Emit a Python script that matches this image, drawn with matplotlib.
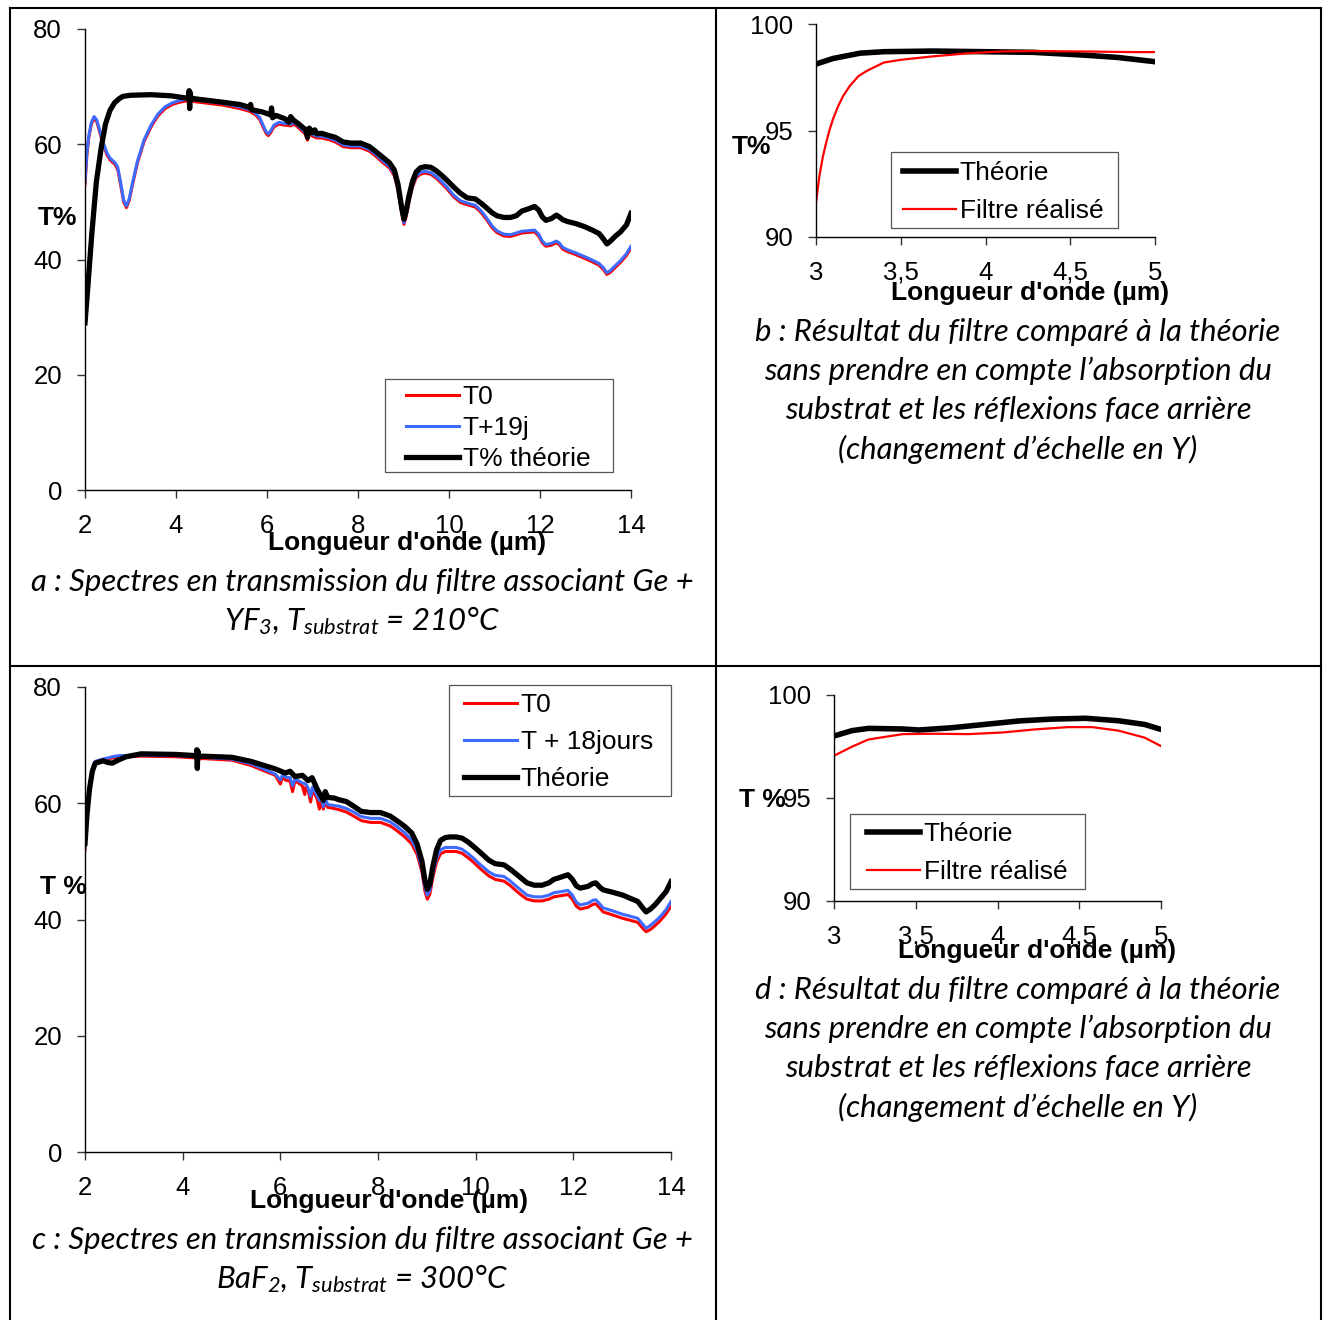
import matplotlib
matplotlib.use('Agg')
import matplotlib.pyplot as plt
from matplotlib.lines import Line2D
from matplotlib.patches import Rectangle

# ---- data: panel a (Ge + YF3, 210°C) ----
wl_a_th = [2.00, 2.05, 2.15, 2.25, 2.36, 2.45, 2.55, 2.65, 2.75, 2.83,
           3.00, 3.45, 3.90, 4.23, 4.28, 4.29, 4.30, 4.31, 4.33, 4.40,
           5.02, 5.40, 5.62, 5.64, 5.66, 5.90, 6.08, 6.10, 6.12, 6.20,
           6.40, 6.48, 6.52, 6.58, 6.70, 6.85, 6.89, 6.93, 7.00, 7.05,
           7.10, 7.20, 7.36, 7.50, 7.67, 7.85, 8.06, 8.25, 8.38, 8.55,
           8.69, 8.80, 8.88, 8.96, 9.01, 9.06, 9.12, 9.20, 9.28, 9.37,
           9.47, 9.60, 9.72, 9.84, 9.95, 10.10, 10.25, 10.40, 10.58, 10.70,
           10.82, 10.95, 11.05, 11.20, 11.35, 11.48, 11.60, 11.75, 11.88, 11.97,
           12.05, 12.13, 12.25, 12.36, 12.42, 12.50, 12.60, 12.80, 12.98, 13.15,
           13.30, 13.40, 13.47, 13.55, 13.65, 13.77, 13.90, 14.00]
T_a_th = [29.0, 34.0, 44.5, 53.5, 59.6, 63.5, 65.9, 67.2, 67.9, 68.3,
          68.5, 68.6, 68.4, 68.0, 68.2, 69.3, 66.2, 69.0, 67.9, 67.9,
          67.3, 66.9, 66.4, 66.9, 66.0, 65.6, 65.1, 66.3, 64.6, 65.0,
          64.4, 63.8, 64.8, 64.2, 63.5, 62.5, 61.2, 62.8, 62.0, 62.5,
          61.8, 61.9, 61.5, 61.2, 60.4, 60.2, 60.2, 59.6, 58.8, 57.7,
          56.8, 55.5, 53.0, 49.0, 47.0, 48.5, 51.0, 53.6, 55.2, 55.9,
          56.1, 56.0, 55.4, 54.6, 53.8, 52.6, 51.5, 50.7, 50.5, 49.8,
          49.0, 48.1, 47.6, 47.3, 47.3, 47.6, 48.4, 48.8, 49.2, 48.6,
          47.4, 46.8, 47.1, 47.7, 47.4, 46.9, 46.6, 46.2, 45.7, 45.1,
          44.5, 43.5, 42.7, 43.2, 44.0, 44.8, 46.0, 48.0]
wl_a_mes = [2.00, 2.04, 2.08, 2.14, 2.20, 2.26, 2.32, 2.40, 2.48, 2.56,
            2.66, 2.72, 2.78, 2.85, 2.91, 2.97, 3.05, 3.15, 3.30, 3.45,
            3.60, 3.76, 3.92, 4.08, 4.23, 4.28, 4.29, 4.30, 4.31, 4.33,
            4.40, 5.02, 5.40, 5.62, 5.75, 5.84, 5.92, 5.98, 6.03, 6.08,
            6.15, 6.26, 6.40, 6.52, 6.60, 6.70, 6.85, 6.89, 6.93, 7.00,
            7.10, 7.20, 7.36, 7.50, 7.67, 7.85, 8.06, 8.25, 8.38, 8.55,
            8.69, 8.80, 8.88, 8.96, 9.01, 9.06, 9.12, 9.20, 9.28, 9.37,
            9.47, 9.60, 9.72, 9.84, 9.95, 10.10, 10.25, 10.40, 10.58, 10.70,
            10.82, 10.95, 11.05, 11.20, 11.35, 11.48, 11.60, 11.75, 11.88, 11.97,
            12.05, 12.13, 12.25, 12.36, 12.42, 12.50, 12.60, 12.80, 12.98, 13.15,
            13.30, 13.40, 13.47, 13.55, 13.65, 13.77, 13.90, 14.00]
T_a_19j = [53.5, 58.5, 61.3, 63.8, 64.8, 64.2, 62.5, 60.3, 58.5, 57.5,
           56.8, 56.0, 53.5, 50.3, 49.3, 50.5, 53.5, 57.0, 60.8, 63.3,
           65.2, 66.5, 67.2, 67.6, 67.8, 67.9, 69.1, 66.3, 68.8, 67.8,
           67.7, 67.1, 66.5, 66.0, 65.4, 64.6, 63.2, 62.2, 61.8, 62.3,
           63.3, 63.8, 63.6, 63.5, 63.8, 63.1, 62.0, 61.0, 62.3, 61.7,
           61.4, 61.4, 61.1, 60.7, 59.9, 59.7, 59.7, 59.1, 58.3, 57.1,
           56.2, 54.8, 52.2, 48.3, 46.4, 47.8, 50.3, 52.9, 54.5, 55.1,
           55.3, 55.1, 54.4, 53.5, 52.6, 51.2, 50.2, 49.8, 49.4, 48.5,
           47.3, 45.8, 45.0, 44.4, 44.3, 44.6, 44.9, 45.0, 45.1, 44.4,
           43.2, 42.6, 42.8, 43.2, 42.9, 42.1, 41.7, 41.1, 40.5, 39.9,
           39.3, 38.5, 37.7, 38.1, 38.9, 39.8, 41.0, 42.3]
T_a_T0 = [53.0, 58.0, 61.0, 63.5, 64.5, 63.9, 62.2, 60.0, 58.2, 57.2,
          56.5, 55.6, 53.1, 50.0, 49.0, 50.2, 53.2, 56.7, 60.5, 63.0,
          64.9, 66.2, 66.9, 67.3, 67.5, 67.6, 68.8, 66.0, 68.5, 67.5,
          67.4, 66.8, 66.2, 65.7, 65.1, 64.3, 62.9, 61.9, 61.5, 62.0,
          63.0, 63.5, 63.3, 63.2, 63.5, 62.8, 61.7, 60.7, 62.0, 61.4,
          61.1, 61.1, 60.8, 60.4, 59.6, 59.4, 59.4, 58.8, 58.0, 56.8,
          55.9, 54.5, 51.9, 48.0, 46.1, 47.5, 50.0, 52.6, 54.2, 54.8,
          55.0, 54.8, 54.1, 53.2, 52.3, 50.9, 49.9, 49.5, 49.1, 48.2,
          47.0, 45.5, 44.7, 44.1, 44.0, 44.3, 44.6, 44.7, 44.8, 44.1,
          42.9, 42.3, 42.5, 42.9, 42.6, 41.8, 41.4, 40.8, 40.2, 39.6,
          39.0, 38.2, 37.4, 37.8, 38.6, 39.5, 40.7, 42.0]

# ---- data: panel b (zoom 3-5 µm, YF3) ----
wl_b_th = [3.00, 3.10, 3.26, 3.40, 3.69, 3.99, 4.28, 4.58, 4.78, 5.00]
T_b_th = [98.12, 98.38, 98.63, 98.70, 98.73, 98.70, 98.67, 98.54, 98.43, 98.23]
wl_b_mes = [3.00, 3.02, 3.04, 3.06, 3.08, 3.10, 3.13, 3.16, 3.20, 3.25,
            3.30, 3.40, 3.50, 3.69, 3.89, 4.09, 4.28, 4.58, 4.88, 5.00]
T_b_mes = [91.60, 92.86, 93.75, 94.43, 95.03, 95.53, 96.13, 96.62, 97.10, 97.55,
           97.80, 98.19, 98.32, 98.48, 98.62, 98.71, 98.73, 98.71, 98.68, 98.68]

# ---- data: panel c (Ge + BaF2, 300°C) ----
wl_c_th = [2.00, 2.04, 2.09, 2.15, 2.21, 2.37, 2.47, 2.56, 2.70, 2.84,
           3.15, 3.85, 4.25, 4.28, 4.29, 4.30, 4.31, 4.33, 4.40, 5.01,
           5.40, 5.63, 5.90, 6.10, 6.20, 6.30, 6.45, 6.57, 6.65, 6.75,
           6.88, 6.92, 6.97, 7.10, 7.20, 7.35, 7.50, 7.66, 7.85, 8.05,
           8.25, 8.37, 8.55, 8.69, 8.80, 8.90, 8.96, 9.01, 9.06, 9.12,
           9.20, 9.28, 9.38, 9.47, 9.60, 9.72, 9.85, 9.95, 10.10, 10.27,
           10.40, 10.58, 10.70, 10.82, 10.95, 11.05, 11.20, 11.36, 11.50, 11.60,
           11.75, 11.89, 11.98, 12.06, 12.14, 12.30, 12.40, 12.46, 12.55, 12.61,
           12.80, 13.01, 13.15, 13.32, 13.42, 13.49, 13.58, 13.68, 13.78, 13.90,
           14.00]
T_c_th = [53.1, 58.0, 62.3, 65.5, 66.9, 67.3, 67.0, 66.9, 67.5, 68.0,
          68.5, 68.4, 68.2, 68.0, 69.2, 66.0, 69.0, 68.0, 68.1, 67.9,
          67.2, 66.6, 65.9, 65.2, 65.5, 64.6, 64.8, 63.9, 64.4, 62.5,
          60.5, 62.0, 61.0, 60.9, 60.6, 60.3, 59.5, 58.6, 58.4, 58.4,
          57.8, 57.1, 56.0, 54.9, 53.0, 50.0, 46.8, 45.2, 46.0, 49.0,
          52.0, 53.6, 54.1, 54.2, 54.2, 54.0, 53.3, 52.6, 51.5, 50.2,
          49.6, 49.4, 48.7, 47.9, 47.0, 46.3, 45.9, 45.9, 46.3, 46.9,
          47.3, 47.7, 46.9, 45.8, 45.4, 45.7, 46.2, 46.3, 45.5, 45.1,
          44.7, 44.2, 43.7, 43.1, 42.0, 41.3, 41.8, 42.6, 43.6, 44.8,
          46.5]
wl_c_mes = [2.00, 2.04, 2.09, 2.15, 2.21, 2.37, 2.47, 2.56, 2.70, 2.84,
            3.15, 3.85, 4.25, 4.28, 4.29, 4.30, 4.31, 4.33, 4.40, 5.01,
            5.40, 5.63, 5.90, 6.00, 6.05, 6.10, 6.20, 6.25, 6.30, 6.45,
            6.50, 6.53, 6.57, 6.62, 6.66, 6.75, 6.80, 6.84, 6.88, 6.92,
            6.97, 7.10, 7.20, 7.35, 7.50, 7.66, 7.85, 8.05, 8.25, 8.37,
            8.55, 8.69, 8.80, 8.90, 8.96, 9.01, 9.06, 9.12, 9.20, 9.28,
            9.38, 9.47, 9.60, 9.72, 9.85, 9.95, 10.10, 10.27, 10.40, 10.58,
            10.70, 10.82, 10.95, 11.05, 11.20, 11.36, 11.50, 11.60, 11.75, 11.89,
            11.98, 12.06, 12.14, 12.30, 12.40, 12.46, 12.55, 12.61, 12.80, 13.01,
            13.15, 13.32, 13.42, 13.49, 13.58, 13.68, 13.78, 13.90, 14.00]
T_c_18j = [52.5, 58.5, 63.0, 66.0, 67.2, 67.6, 67.8, 68.0, 68.2, 68.2,
           68.3, 68.2, 68.0, 67.9, 69.0, 66.0, 68.8, 67.8, 67.9, 67.6,
           66.8, 66.0, 65.0, 64.0, 65.0, 64.5, 64.4, 63.0, 64.2, 63.5,
           63.4, 63.2, 62.6, 61.2, 62.8, 61.4, 60.5, 61.0, 59.4, 60.8,
           59.8, 59.6, 59.5, 59.1, 58.5, 57.7, 57.4, 57.4, 56.8, 56.1,
           54.9, 53.7, 51.9, 48.8, 45.6, 44.2, 45.0, 47.8, 50.6, 52.0,
           52.4, 52.4, 52.4, 52.1, 51.3, 50.6, 49.4, 48.2, 47.6, 47.4,
           46.7, 45.8, 44.9, 44.2, 43.9, 43.9, 44.2, 44.6, 44.8, 45.0,
           44.2, 43.0, 42.5, 42.8, 43.3, 43.4, 42.6, 42.0, 41.5, 40.9,
           40.6, 40.2, 39.2, 38.5, 39.0, 39.7, 40.5, 41.7, 43.1]
T_c_T0 = [52.0, 58.0, 62.6, 65.7, 67.0, 67.4, 67.6, 67.8, 68.0, 68.0,
          68.1, 68.0, 67.8, 67.7, 68.8, 65.8, 68.6, 67.6, 67.7, 67.4,
          66.5, 65.7, 64.8, 63.3, 64.7, 64.0, 63.8, 62.0, 63.9, 63.0,
          61.5, 63.0, 62.2, 60.2, 62.3, 60.8, 59.0, 60.5, 59.0, 60.3,
          59.3, 59.1, 58.9, 58.5, 57.8, 57.0, 56.7, 56.7, 56.1, 55.4,
          54.2, 53.0, 51.2, 48.2, 44.9, 43.5, 44.3, 47.1, 49.9, 51.3,
          51.7, 51.7, 51.7, 51.4, 50.6, 49.9, 48.7, 47.5, 46.9, 46.6,
          45.9, 45.0, 44.1, 43.5, 43.2, 43.2, 43.5, 43.9, 44.1, 44.3,
          43.5, 42.3, 41.8, 42.1, 42.6, 42.7, 41.9, 41.3, 40.8, 40.2,
          39.9, 39.5, 38.5, 37.9, 38.3, 39.0, 39.8, 41.0, 42.3]

# ---- data: panel d (zoom 3-5 µm, BaF2) ----
wl_d_th = [3.00, 3.11, 3.21, 3.42, 3.52, 3.72, 3.92, 4.13, 4.33, 4.54, 4.74, 4.90, 5.00]
T_d_th = [98.01, 98.27, 98.38, 98.35, 98.30, 98.41, 98.57, 98.74, 98.83, 98.87, 98.75, 98.57, 98.33]
wl_d_mes = [3.00, 3.11, 3.21, 3.42, 3.62, 3.82, 4.03, 4.23, 4.43, 4.58, 4.74, 4.90, 5.00]
T_d_mes = [97.05, 97.49, 97.84, 98.10, 98.12, 98.10, 98.18, 98.33, 98.44, 98.44, 98.27, 97.93, 97.52]

ticks_wide = [2, 4, 6, 8, 10, 12, 14]
ticks_zoom = [3, 3.5, 4, 4.5, 5]
labels_zoom = ['3', '3,5', '4', '4,5', '5']

RED = '#FF0000'
BLUE = '#3D6BFF'
W, H = 1326, 1320

plt.rcParams['font.family'] = ['Liberation Sans', 'DejaVu Sans']
plt.rcParams['mathtext.fontset'] = 'custom'
plt.rcParams['mathtext.it'] = 'Lato:italic'
plt.rcParams['mathtext.rm'] = 'Lato:italic'

fig = plt.figure(figsize=(W / 100, H / 100), dpi=100)


def fx(px):
    return px / W


def fy(py):
    return 1 - py / H


def make_axes(l, t, r, b, xlim, ylim, xticks, xlabels, yticks):
    ax = fig.add_axes([fx(l), fy(b), (r - l) / W, (b - t) / H])
    ax.set_xlim(xlim)
    ax.set_ylim(ylim)
    ax.spines['top'].set_visible(False)
    ax.spines['right'].set_visible(False)
    ax.spines['left'].set_linewidth(1.0)
    ax.spines['bottom'].set_linewidth(1.0)
    ax.set_xticks(xticks, xlabels)
    ax.set_yticks(yticks)
    ax.tick_params(direction='out', length=6, width=1, labelsize=18.5, color='#333333')
    ax.tick_params(axis='x', pad=11)
    ax.tick_params(axis='y', pad=10.5)
    ax.patch.set_alpha(0)
    return ax


def legend_box(ax, handles, labels, hx, ty, spacing, box, handlelen=2.0, textpad=0.15):
    ax.legend(handles, labels, loc='upper left', bbox_to_anchor=(fx(hx), fy(ty)),
              bbox_transform=fig.transFigure, frameon=False, borderpad=0,
              borderaxespad=0, handlelength=handlelen, handletextpad=textpad,
              labelspacing=spacing, fontsize=19)
    x0, y0, x1, y1 = box
    fig.add_artist(Rectangle((fx(x0), fy(y1)), (x1 - x0) / W, (y1 - y0) / H,
                             transform=fig.transFigure, fill=False,
                             edgecolor='#555555', linewidth=0.9))


def bold(px, py, s):
    fig.text(fx(px), fy(py), s, ha='center', va='center', fontsize=19, fontweight='bold')


def caption(px, py, s):
    fig.text(fx(px), fy(py), s, ha='center', va='center', fontsize=22.4,
             family='Lato', style='italic')


# panel a
ax_a = make_axes(85, 29, 631, 490, (2, 14), (0, 80), ticks_wide, None, [0, 20, 40, 60, 80])
la_r, = ax_a.plot(wl_a_mes, T_a_T0, color=RED, lw=2.2)
la_b, = ax_a.plot(wl_a_mes, T_a_19j, color=BLUE, lw=2.2)
la_k, = ax_a.plot(wl_a_th, T_a_th, color='black', lw=3.8, solid_joinstyle='round')
legend_box(ax_a, [la_r, la_b, la_k], ['T0', 'T+19j', 'T% théorie'],
           406, 385, 0.27, (385, 379, 613, 472))
bold(57, 218, 'T%')
bold(407, 543, "Longueur d'onde (µm)")

# panel b
ax_b = make_axes(816, 24, 1155, 237, (3, 5), (90, 100), ticks_zoom, labels_zoom, [90, 95, 100])
lb_k, = ax_b.plot(wl_b_th, T_b_th, color='black', lw=4.0, solid_joinstyle='round')
lb_r, = ax_b.plot(wl_b_mes, T_b_mes, color=RED, lw=1.6)
legend_box(ax_b, [lb_k, lb_r], ['Théorie', 'Filtre réalisé'],
           903, 161, 0.53, (891, 152, 1118, 228))
bold(752, 147, 'T%')
bold(1030, 293, "Longueur d'onde (µm)")

# panel c
ax_c = make_axes(85, 687, 671, 1152, (2, 14), (0, 80), ticks_wide, None, [0, 20, 40, 60, 80])
lc_r, = ax_c.plot(wl_c_mes, T_c_T0, color=RED, lw=2.2)
lc_b, = ax_c.plot(wl_c_mes, T_c_18j, color=BLUE, lw=2.2)
lc_k, = ax_c.plot(wl_c_th, T_c_th, color='black', lw=3.8, solid_joinstyle='round')
legend_box(ax_c, [lc_r, lc_b, lc_k], ['T0', 'T + 18jours', 'Théorie'],
           464, 693, 0.5, (449, 685, 671, 796))
bold(63, 887, 'T %')
bold(389, 1201, "Longueur d'onde (µm)")

# panel d
ax_d = make_axes(834, 695, 1161, 901, (3, 5), (90, 100), ticks_zoom, labels_zoom, [90, 95, 100])
ld_k, = ax_d.plot(wl_d_th, T_d_th, color='black', lw=4.0, solid_joinstyle='round')
ld_r, = ax_d.plot(wl_d_mes, T_d_mes, color=RED, lw=1.6)
legend_box(ax_d, [ld_k, ld_r], ['Théorie', 'Filtre réalisé'],
           867, 822, 0.53, (850, 814, 1085, 889))
bold(762, 800, 'T %')
bold(1037, 951, "Longueur d'onde (µm)")

# captions
caption(362, 582, 'a : Spectres en transmission du filtre associant Ge +')
caption(362, 621, r'$YF_3$, $T_{substrat}$ = 210°C')
caption(362, 1240, 'c : Spectres en transmission du filtre associant Ge +')
caption(362, 1279, r'$BaF_2$, $T_{substrat}$ = 300°C')
for y0, tag in [(332, 'b'), (990, 'd')]:
    caption(1018, y0, tag + ' : Résultat du filtre comparé à la théorie')
    caption(1018, y0 + 39, 'sans prendre en compte l’absorption du')
    caption(1018, y0 + 78, 'substrat et les réflexions face arrière')
    caption(1018, y0 + 117, '(changement d’échelle en Y)')

# table borders
for (x0, y0, x1, y1) in [(10, 8, 1321, 8), (10, 666, 1321, 666), (10, 8, 10, 1320),
                         (716, 8, 716, 1320), (1321, 8, 1321, 1320)]:
    fig.add_artist(Line2D([fx(x0), fx(x1)], [fy(y0), fy(y1)], color='black',
                          lw=1.5, transform=fig.transFigure))

fig.savefig('out.png', dpi=100)
